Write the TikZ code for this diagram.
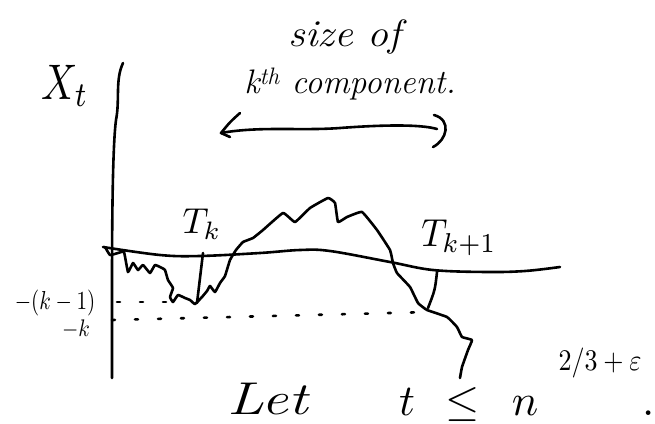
\documentclass[tikz,border=0pt]{standalone}
\usepackage{fontspec}
\usepackage{amsmath}
\usepackage{graphicx}
\begin{document}
\begin{tikzpicture}[x=1pt,y=-1pt,
  ink/.style={line width=2.6pt, line cap=round, line join=round},
  dotrow/.style={line width=2.6pt, line cap=round, dash pattern=on 3pt off 20pt},
  lbl/.style={inner sep=0pt, outer sep=0pt}]
\useasboundingbox (0,0) rectangle (655,423);

% vertical axis
\draw[ink] (123,63) .. controls (115,80) and (120,100) .. (116,120)
  .. controls (112,150) and (112,250) .. (112,300) -- (112,378);

% horizontal level line
\draw[ink] plot[smooth, tension=0.6] coordinates {(103,247) (160,255) (200,256) (260,253) (300,250) (330,251) (390,262) (433,270) (487,272) (525,271) (560,267)};

% random walk
\draw[ink] plot[smooth, tension=0.2] coordinates {
 (105,247) (110,255) (118,253) (124,252) (128,272) (133,263) (138,270) (143,265)
 (150,273) (155,265) (162,268) (165,270) (168,280) (173,288) (170,297) (173,302)
 (178,295) (185,298) (190,300) (195,304) (202,297) (207,291) (210,286) (215,292)
 (220,283) (225,276) (230,260) (236,250) (243,242) (253,238) (263,230) (283,213)
 (295,222) (310,208) (328,198) (335,203) (338,222) (347,217) (362,212) (377,230)
 (390,250) (393,263) (397,273) (410,287) (418,303) (427,310) (447,317) (457,327)
 (462,337) (472,340) (468,350) (462,367) (460,378)};

% level -(k-1) dots
\draw[dotrow] (117,302) -- (180,302);
% level -k dots
\draw[dotrow] (112,320) -- (430,312);

% stopping time ticks
\coordinate (Tktop) at (203,253);
\coordinate (Tkbot) at (197,303);
\draw[ink] (Tktop) -- (Tkbot);
\coordinate (Tktop2) at (437,272);
\coordinate (Tkbot2) at (428,308);
\draw[ink] (Tktop2) .. controls (435,290) .. (Tkbot2);

% double arrow for size of component
\coordinate (aL) at (221,133);
\coordinate (aR) at (437,129);
\draw[ink] (aL) .. controls (260,126) and (300,131) .. (340,128) .. controls (380,125) and (420,124) .. (aR);
\draw[ink] (240,113) .. controls (230,122) .. (aL) -- (230,137);
\draw[ink] (434,115) .. controls (452,120) and (447,140) .. (433,147);

% labels
\node[lbl] (xt) at (65,86) {\scalebox{4}[5]{$X_t$}};
\node[lbl, font=\fontsize{38}{38}\selectfont\itshape] (size) at (345,37) {\scalebox{1.1}[1]{size of}};
\node[lbl, font=\fontsize{34}{34}\selectfont\itshape] (comp) at (350,84) {k\textsuperscript{th} component.};
\node[lbl] (tk) at (202,224) {\scalebox{3.6}{$T_k$}};
\node[lbl] (tk1) at (459,238) {\scalebox{3.6}[3.9]{$T_{k+1}$}};
\node[lbl] (km1) at (55,303) {\scalebox{2.1}[2.6]{$-(k-1)$}};
\node[lbl] (km) at (76,329) {\scalebox{2.1}[2.4]{$-k$}};
\node[lbl, font=\fontsize{46}{46}\selectfont\itshape, anchor=base] (let) at (268,414) {\scalebox{1.3}[1]{Let}};
\node[lbl, anchor=base] (tt) at (407,415) {\scalebox{4.4}{$t$}};
\node[lbl, anchor=base] (le) at (463,415) {\scalebox{4.4}{$\leq$}};
\node[lbl, anchor=base] (nn) at (525,415) {\scalebox{4.4}{$n$}};
\node[lbl, anchor=base] (ex) at (600,370) {\scalebox{2.6}[3]{$2/3+\varepsilon$}};
\node[lbl, anchor=base] (dot) at (649,415) {\scalebox{4.4}{.}};
\end{tikzpicture}
\end{document}
